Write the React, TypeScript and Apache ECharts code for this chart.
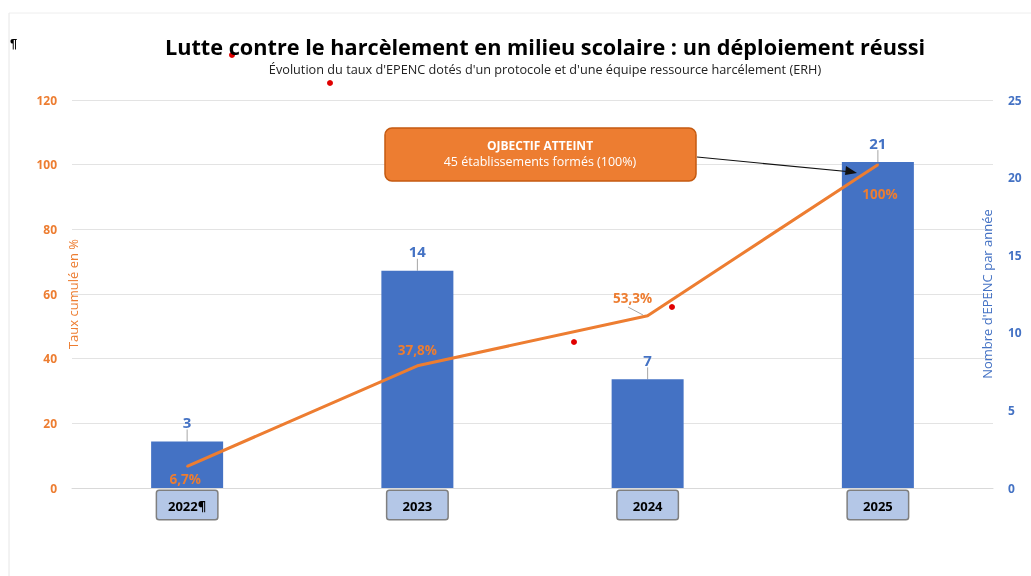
import React, { useEffect, useRef } from "react";
import * as echarts from "echarts";

const categories = ["2022¶", "2023", "2024", "2025"];
const establishments = [3, 14, 7, 21];
const cumulativeRate = [6.7, 37.8, 53.3, 100];
const leftTicks = { min: 0, max: 120, interval: 20 };
const rightTicks = { min: 0, max: 25, interval: 5 };

const BLUE = "#4472C4";
const ORANGE = "#ED7D31";
const FONT = "'Open Sans', 'Liberation Sans', sans-serif";

export default function App() {
  const ref = useRef<HTMLDivElement>(null);
  useEffect(() => {
    if (!ref.current) return;
    const chart = echarts.init(ref.current, undefined, { renderer: "svg" });
    const fmt = (v: number) => String(v).replace(".", ",") + "%";
    const lineLabelPos: any[] = [
      { position: "bottom", offset: [-2, 0] },
      { position: "top", offset: [0, -3] },
      { position: "top", offset: [-15, -5] },
      { position: "bottom", offset: [2, 16] },
    ];
    chart.setOption({
      animation: false,
      textStyle: { fontFamily: FONT },
      title: {
        text: "Lutte contre le harcèlement en milieu scolaire : un déploiement réussi",
        subtext:
          "Évolution du taux d'EPENC dotés d'un protocole et d'une équipe ressource harcélement (ERH)",
        left: 540,
        textAlign: "center",
        top: 30,
        itemGap: 5,
        textStyle: { fontSize: 21.7, fontWeight: "bold", color: "#000", fontFamily: FONT },
        subtextStyle: { fontSize: 12.7, color: "#222", fontFamily: FONT },
      },
      grid: { left: 72, right: 38, top: 100, bottom: 88 },
      xAxis: {
        type: "category",
        data: categories,
        axisLine: { lineStyle: { color: "#D9D9D9" } },
        axisTick: { show: false },
        axisLabel: {
          margin: 3,
          color: "#000",
          fontWeight: "bold",
          fontSize: 13,
          backgroundColor: "#B4C7E7",
          borderColor: "#7F7F7F",
          borderWidth: 1.5,
          borderRadius: 2,
          width: 48,
          align: "center",
          padding: [8, 6, 7, 6],
          verticalAlign: "top",
        },
      },
      yAxis: [
        {
          type: "value",
          ...leftTicks,
          name: "Taux cumulé en %",
          nameLocation: "middle",
          nameRotate: 90,
          nameGap: -7,
          nameMoveOverlap: false,
          nameTextStyle: { color: ORANGE, fontSize: 13 },
          axisLine: { show: false },
          axisTick: { show: false },
          axisLabel: { color: ORANGE, fontWeight: "bold", fontSize: 12, margin: 15 },
          splitLine: { lineStyle: { color: "#E3E3E3" } },
        },
        {
          type: "value",
          ...rightTicks,
          name: "Nombre d'EPENC par année",
          nameLocation: "middle",
          nameRotate: 90,
          nameGap: -13,
          nameMoveOverlap: false,
          nameTextStyle: { color: BLUE, fontSize: 13 },
          axisLine: { show: false },
          axisTick: { show: false },
          axisLabel: { color: BLUE, fontWeight: "bold", fontSize: 12, margin: 15 },
          splitLine: { show: false },
        },
      ],
      series: [
        {
          type: "bar",
          yAxisIndex: 1,
          data: establishments,
          barWidth: 72,
          itemStyle: { color: BLUE },
          label: {
            show: true,
            position: "top",
            distance: 4,
            color: BLUE,
            fontWeight: "bold",
            fontSize: 15,
          },
          labelLayout: { dy: -8 },
          labelLine: { show: true, lineStyle: { color: "#A6A6A6", width: 1 } },
          z: 2,
        },
        {
          type: "line",
          yAxisIndex: 0,
          data: cumulativeRate.map((v, i) => ({
            value: v,
            label: lineLabelPos[i],
          })),
          symbol: "circle",
          symbolSize: 2,
          showSymbol: true,
          itemStyle: { color: ORANGE },
          lineStyle: { color: ORANGE, width: 3 },
          label: {
            show: true,
            color: ORANGE,
            fontWeight: "bold",
            fontSize: 13.5,
            formatter: (p: any) => fmt(p.value),
          },
          z: 3,
        },
      ],
      graphic: [
        { type: "line", shape: { x1: 9, y1: 13, x2: 9, y2: 576 }, style: { stroke: "#E6E6E6", lineWidth: 1 } },
        { type: "line", shape: { x1: 9, y1: 13, x2: 1031, y2: 13 }, style: { stroke: "#EEEEEE", lineWidth: 1 } },
        { type: "text", x: 10, y: 37, style: { text: "¶", font: "bold 13px sans-serif", fill: "#000" } },
        { type: "circle", shape: { cx: 232, cy: 55, r: 3 }, style: { fill: "#E00000" } },
        { type: "circle", shape: { cx: 330, cy: 83, r: 3 }, style: { fill: "#E00000" } },
        { type: "circle", shape: { cx: 574, cy: 342, r: 3 }, style: { fill: "#E00000" } },
        { type: "circle", shape: { cx: 672, cy: 307, r: 3 }, style: { fill: "#E00000" } },
        { type: "line", shape: { x1: 628, y1: 307, x2: 643, y2: 315 }, style: { stroke: "#A6A6A6", lineWidth: 1 } },
        {
          type: "rect",
          shape: { x: 385, y: 128, width: 311, height: 53, r: 7 },
          style: { fill: ORANGE, stroke: "#C55A11", lineWidth: 1.5 },
          z: 10,
        },
        {
          type: "text",
          x: 540,
          y: 145,
          style: {
            text: "OJBECTIF ATTEINT",
            fill: "#fff",
            font: `bold 12px ${FONT}`,
            textAlign: "center",
            textVerticalAlign: "middle",
          },
          z: 11,
        },
        {
          type: "text",
          x: 540,
          y: 161,
          style: {
            text: "45 établissements formés (100%)",
            fill: "#fff",
            font: `12.5px ${FONT}`,
            textAlign: "center",
            textVerticalAlign: "middle",
          },
          z: 11,
        },
        {
          type: "line",
          shape: { x1: 697, y1: 157, x2: 852, y2: 172 },
          style: { stroke: "#111", lineWidth: 1.2 },
          z: 11,
        },
        {
          type: "polygon",
          shape: { points: [[857, 173], [846, 166], [845, 175]] },
          style: { fill: "#111" },
          z: 11,
        },
      ],
    });
    return () => chart.dispose();
  }, []);
  return (
    <div
      ref={ref}
      style={{ position: "fixed", left: 0, top: 0, width: 1031, height: 576 }}
    />
  );
}
